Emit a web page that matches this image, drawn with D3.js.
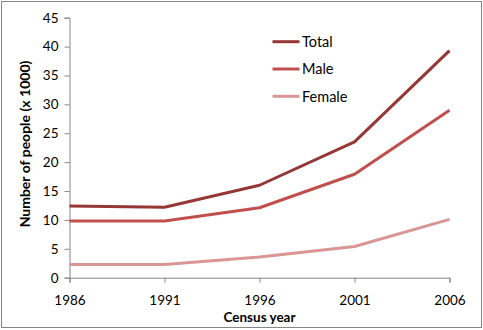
<!DOCTYPE html>
<html><head><meta charset="utf-8">
<script src="https://cdn.jsdelivr.net/npm/d3@7"></script>
<style>body{margin:0;background:#fff}svg{display:block}text{font-family:Lato,"Open Sans",sans-serif}</style>
</head><body>
<script>
const years = [1986, 1991, 1996, 2001, 2006];
const total = [12.4, 12.2, 16.0, 23.5, 39.3];
const male = [9.8, 9.8, 12.1, 17.9, 29.0];
const female = [2.3, 2.3, 3.6, 5.4, 10.1];
const yTicks = [0, 5, 10, 15, 20, 25, 30, 35, 40, 45];
const seriesNames = ["Total", "Male", "Female"];
const seriesColors = ["#953735", "#C0504D", "#D99694"];
const seriesData = [total, male, female];

const W = 483, H = 330;
const svg = d3.select("body").append("svg").attr("width", W).attr("height", H);
svg.append("rect").attr("x", 1.5).attr("y", 1.5).attr("width", W - 3).attr("height", H - 4)
  .attr("fill", "#fff").attr("stroke", "#868686").attr("stroke-width", 1);

const x = d3.scalePoint().domain(years).range([69.5, 449.5]);
const y = d3.scaleLinear().domain([0, 45]).range([277.7, 17.7]);

const gy = svg.append("g").attr("transform", "translate(69.5,0)")
  .call(d3.axisLeft(y).tickValues(yTicks).tickSize(5).tickPadding(6));
const gx = svg.append("g").attr("transform", "translate(0,277.7)")
  .call(d3.axisBottom(x).tickSize(5).tickPadding(13));
[gx, gy].forEach(g => {
  g.select(".domain").attr("stroke", "#868686");
  g.selectAll(".tick line").attr("stroke", "#868686");
  g.selectAll(".tick text").attr("font-size", "13.5px").attr("fill", "#000");
});

const line = d3.line().x((d, i) => x(years[i])).y(d => y(d));
seriesData.forEach((s, k) => {
  svg.append("path").datum(s).attr("d", line).attr("fill", "none")
    .attr("stroke", seriesColors[k]).attr("stroke-width", 3).attr("stroke-linejoin", "round");
});

const leg = svg.append("g");
seriesNames.forEach((n, k) => {
  const ly = 41.7 + k * 27.3;
  leg.append("line").attr("x1", 272.5).attr("x2", 299.5).attr("y1", ly).attr("y2", ly)
    .attr("stroke", seriesColors[k]).attr("stroke-width", 3);
  leg.append("text").attr("x", 302).attr("y", ly).attr("dy", "0.36em")
    .attr("font-size", "14.5px").attr("fill", "#000").text(n);
});

svg.append("text").attr("transform", "translate(25,144) rotate(-90)")
  .attr("text-anchor", "middle").attr("dy", "0.35em")
  .attr("font-size", "14px").attr("font-weight", "bold").text("Number of people (x 1000)");
svg.append("text").attr("x", 259.5).attr("y", 317).attr("dy", "0.35em")
  .attr("text-anchor", "middle").attr("font-size", "13.5px").attr("font-weight", "bold").text("Census year");
</script>
</body></html>
